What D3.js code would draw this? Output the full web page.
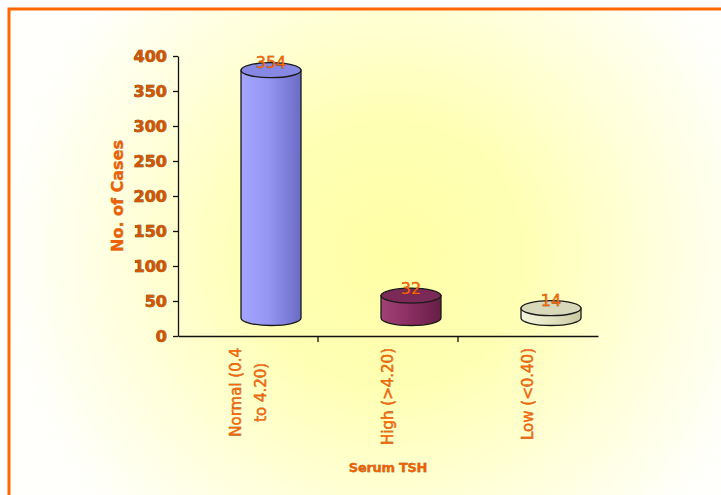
<!DOCTYPE html>
<html>
<head>
<meta charset="utf-8">
<script src="https://cdn.jsdelivr.net/npm/d3@7"></script>
<style>
  html, body { margin: 0; padding: 0; background: #ffffff; }
  svg { display: block; }
</style>
</head>
<body>
<svg id="chart" width="721" height="495"></svg>
<script>
// Serum TSH distribution, number of cases per category
const categories = ["Normal (0.4\nto 4.20)", "High (>4.20)", "Low (<0.40)"];
const cases = [354, 32, 14];
const yTicks = [0, 50, 100, 150, 200, 250, 300, 350, 400];

const bodyColors = [
  ["#a3a5ff", "#9496f2", "#6c6cc6"],
  ["#a04274", "#8c2f62", "#651f45"],
  ["#f4f4de", "#e6e6c6", "#c8c8a2"]
];
const topColors = ["#8788e4", "#7b2a57", "#d8d8ba"];

const svg = d3.select("#chart");
const W = 721, H = 495;
const orange = "#ff6600";

const defs = svg.append("defs");
const bg = defs.append("radialGradient")
  .attr("id", "bgGrad")
  .attr("gradientUnits", "userSpaceOnUse")
  .attr("cx", 390).attr("cy", 255).attr("r", 380);
bg.append("stop").attr("offset", "0").attr("stop-color", "#ffffa6");
bg.append("stop").attr("offset", "0.35").attr("stop-color", "#ffffb4");
bg.append("stop").attr("offset", "0.7").attr("stop-color", "#ffffdc");
bg.append("stop").attr("offset", "1").attr("stop-color", "#fffffb");

bodyColors.forEach((c, i) => {
  const g = defs.append("linearGradient").attr("id", "body" + i)
    .attr("x1", "0").attr("x2", "1").attr("y1", "0").attr("y2", "0");
  g.append("stop").attr("offset", "0").attr("stop-color", c[0]);
  g.append("stop").attr("offset", "0.45").attr("stop-color", c[1]);
  g.append("stop").attr("offset", "1").attr("stop-color", c[2]);
});

// chart area background and frame
svg.append("rect").attr("x", 8).attr("y", 8).attr("width", W - 8).attr("height", H - 8)
  .attr("fill", "url(#bgGrad)");
svg.append("path")
  .attr("d", `M${W},9 L9,9 L9,${H}`)
  .attr("fill", "none").attr("stroke", orange).attr("stroke-width", 3);

// scales
const plotLeft = 178, plotRight = 598;
const x = d3.scaleBand().domain(categories).range([plotLeft, plotRight]).padding(0);
const y = d3.scaleLinear().domain([0, 400]).range([336, 56]);

// depth offset of the 3D series
const depthX = 23, depthY = -18;
const rx = 30, ry = 7.5;

// axes
const yAxis = d3.axisLeft(y).tickValues(yTicks).tickSize(5).tickSizeOuter(0).tickPadding(6);
const yG = svg.append("g").attr("transform", `translate(${plotLeft},0)`).call(yAxis);
yG.select(".domain").attr("stroke", "#111").attr("stroke-width", 1.3);
yG.selectAll(".tick line").attr("stroke", "#111").attr("stroke-width", 1.3);
yG.selectAll(".tick text")
  .attr("font-family", "DejaVu Sans, sans-serif")
  .attr("font-size", 16).attr("font-weight", "bold")
  .attr("fill", "#d85500").attr("stroke", "#3a2200").attr("stroke-width", 0.6)
  .attr("paint-order", "stroke");

const xAxis = d3.axisBottom(x).tickSize(6).tickSizeOuter(0).tickFormat("");
const xG = svg.append("g").attr("transform", `translate(0,${y(0)})`).call(xAxis);
xG.select(".domain").attr("stroke", "#111").attr("stroke-width", 1.3);
xG.selectAll(".tick").remove();
// category separator ticks
xG.selectAll("line.sep").data(categories.slice(1)).enter().append("line")
  .attr("x1", d => x(d)).attr("x2", d => x(d))
  .attr("y1", 0).attr("y2", 6)
  .attr("stroke", "#111").attr("stroke-width", 1.3);

// cylinders
const bars = svg.append("g");
categories.forEach((cat, i) => {
  const cx = x(cat) + x.bandwidth() / 2 + depthX;
  const yb = y(0) + depthY;
  const yt = y(cases[i]) + depthY;
  const g = bars.append("g");
  g.append("path")
    .attr("d", `M${cx - rx},${yt} L${cx - rx},${yb} A${rx},${ry} 0 0 0 ${cx + rx},${yb} L${cx + rx},${yt} Z`)
    .attr("fill", `url(#body${i})`)
    .attr("stroke", "#1a1a1a").attr("stroke-width", 1.3);
  g.append("ellipse")
    .attr("cx", cx).attr("cy", yt).attr("rx", rx).attr("ry", ry)
    .attr("fill", topColors[i])
    .attr("stroke", "#1a1a1a").attr("stroke-width", 1.3);
  g.append("text")
    .attr("x", cx).attr("y", yt - 2)
    .attr("text-anchor", "middle")
    .attr("font-family", "DejaVu Sans, sans-serif")
    .attr("font-size", 16)
    .attr("fill", orange).attr("stroke", "#5a2a00").attr("stroke-width", 0.4)
    .attr("paint-order", "stroke")
    .text(cases[i]);
});

// rotated category labels
const labelTop = 348;
const labelFont = { family: "DejaVu Sans, sans-serif", size: 15 };
categories.forEach(cat => {
  const lines = cat.split("\n");
  const lineGap = 25;
  const cx = x(cat) + x.bandwidth() / 2;
  const blockW = (lines.length - 1) * lineGap;
  const g = svg.append("g")
    .attr("transform", `translate(${cx - blockW / 2 + 5},${labelTop}) rotate(-90)`);
  const texts = g.selectAll("text").data(lines).enter().append("text")
    .attr("y", (d, j) => j * lineGap)
    .attr("font-family", labelFont.family)
    .attr("font-size", labelFont.size)
    .attr("fill", orange).attr("stroke", "#5a2a00").attr("stroke-width", 0.35)
    .attr("paint-order", "stroke")
    .attr("text-anchor", "middle")
    .text(d => d);
  let maxLen = 0;
  texts.each(function () { maxLen = Math.max(maxLen, this.getComputedTextLength()); });
  texts.attr("x", -maxLen / 2);
});

// axis titles
svg.append("text")
  .attr("transform", `translate(123,196) rotate(-90)`)
  .attr("text-anchor", "middle")
  .attr("font-family", "DejaVu Sans, sans-serif")
  .attr("font-size", 16).attr("font-weight", "bold")
  .attr("fill", "#f06000").attr("stroke", "#5a2a00").attr("stroke-width", 0.3)
  .attr("paint-order", "stroke")
  .text("No. of Cases");

svg.append("text")
  .attr("x", 388).attr("y", 472)
  .attr("text-anchor", "middle")
  .attr("font-family", "DejaVu Sans, sans-serif")
  .attr("font-size", 13).attr("font-weight", "bold")
  .attr("letter-spacing", -0.3)
  .attr("fill", "#f06000").attr("stroke", "#5a2a00").attr("stroke-width", 0.3)
  .attr("paint-order", "stroke")
  .text("Serum TSH");
</script>
</body>
</html>
